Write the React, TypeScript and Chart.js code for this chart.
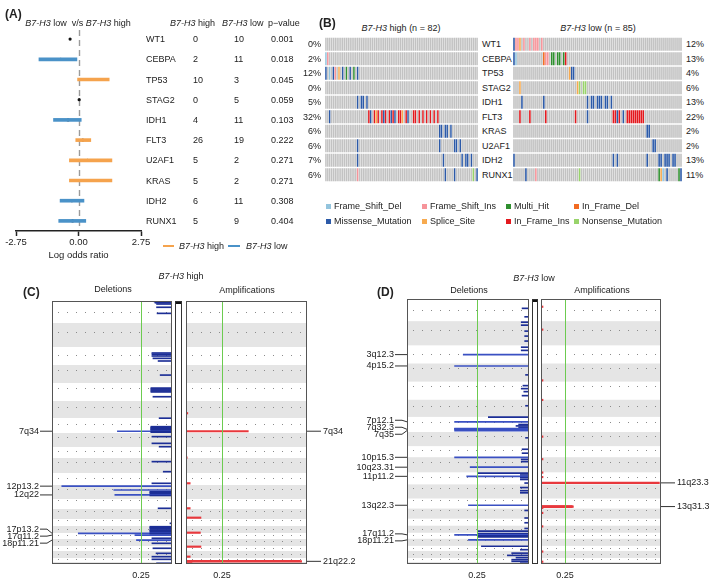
import React, { useEffect, useRef } from 'react';
import { Chart, registerables } from 'chart.js';

Chart.register(...registerables);

const FONT = "'Liberation Sans', Arial, Helvetica, sans-serif";
const INK = '#222222';

// ---------------- Panel A : forest plot + table ----------------
const forestGenes = ['WT1', 'CEBPA', 'TP53', 'STAG2', 'IDH1', 'FLT3', 'U2AF1', 'KRAS', 'IDH2', 'RUNX1'];
const logOddsRatio = [-0.37, -0.78, 0.54, 0.03, -0.46, 0.19, 0.4, 0.4, -0.29, -0.26];
const ciLower = [null, -1.74, -0.04, null, -1.1, -0.12, -0.4, -0.4, -0.81, -0.87];
const ciUpper = [null, -0.07, 1.35, null, 0.12, 0.54, 1.47, 1.47, 0.24, 0.32];
const highCounts = [0, 2, 10, 0, 4, 26, 5, 5, 6, 5];
const lowCounts = [10, 11, 3, 5, 11, 19, 2, 2, 11, 9];
const pValues = ['0.001', '0.018', '0.045', '0.059', '0.103', '0.222', '0.271', '0.271', '0.308', '0.404'];
const forestTicks = [-2.75, 0, 2.75];
const ORANGE = '#F5A34D';
const BLUE = '#4A92C8';

// ---------------- Panel B : oncoplots ----------------
const oncoGenes = ['WT1', 'CEBPA', 'TP53', 'STAG2', 'IDH1', 'FLT3', 'KRAS', 'U2AF1', 'IDH2', 'RUNX1'];
const highN = 82;
const lowN = 85;
const highPct = ['0%', '2%', '12%', '0%', '5%', '32%', '6%', '6%', '7%', '6%'];
const lowPct = ['12%', '13%', '4%', '6%', '13%', '22%', '2%', '2%', '13%', '11%'];
// sample column + mutation code, one string per gene row
const highMutations = [
  '',
  '0F 1P',
  '0B 2F 4B 5P 7S 9B 11H 13B 15H 17B',
  '',
  '17B 19B 20B 22B',
  '2B 23R 24B 26R 27S 28R 30R 31B 32R 34R 35B 36R 37B 39R 40R 41S 43R 44B 47R 48R 50R 52R 54R 56R 58R 60R',
  '61B 62B 64B 65B 67B',
  '17B 61B 69B 70B 72B',
  '17B 63B 73B 75B 76B 78B',
  '17P 64B 69B 79N 81B',
];
const lowMutations = [
  '0B 1P 2P 3S 5P 8P 10P 11P 12P 14P',
  '0B 1F 15O 16P 17P 19H 20H 22H 23H 25H 26R',
  '28S 29B 30B',
  '3S 32S 33N 35N 36N',
  '4B 15B 37B 39B 40B 42B 43B 44B 46B 47B 49B',
  '3R 8R 16R 31R 37B 50R 51R 52B 53R 55B 57R 58R 59R 60R 61R 62R 63R 64R 65R',
  '67B 68B',
  '70B 71B',
  '0B 50B 52B 67B 73B 74B 76B 77B 78B 80B 81B',
  '6B 11P 33N 73H 74S 75F 77B 83H 84B',
];
const mutationTypes = ['Frame_Shift_Del', 'Frame_Shift_Ins', 'Multi_Hit', 'In_Frame_Del', 'Missense_Mutation', 'Splice_Site', 'In_Frame_Ins', 'Nonsense_Mutation'];
const mutationCodes = ['F', 'P', 'H', 'O', 'B', 'S', 'R', 'N'];
const mutationColors = ['#93C4DD', '#F6949A', '#2F8F2F', '#F26B22', '#2C5AA8', '#F7AA4F', '#E3191E', '#98D36A'];
const CELL_GREY = '#C2C2C2';

// ---------------- Panels C / D : GISTIC q-plots ----------------
// plotted extent of each chromosome (relative units)
const chrSpan = [22, 24, 18, 18, 18, 17, 15, 14, 11, 15, 12, 14, 10, 10, 7, 7, 6, 7, 5, 7, 4, 2];
const chrLengthMb = [249, 243, 198, 191, 181, 171, 159, 146, 141, 136, 135, 134, 115, 107, 103, 90, 81, 78, 59, 63, 48, 51];
const centromereMb = [125, 93, 91, 50, 48, 59, 59, 45, 49, 40, 53, 35, 17, 17, 19, 36, 24, 17, 26, 28, 13, 14];
const qThreshold = 0.25;
// [chromosome, position (Mb), -log10(q)]
const delHighBars = [
  [1, 5, 0.35], [1, 12, 0.33], [1, 20, 0.33], [1, 34, 0.3], [1, 71, 0.3], [1, 140, 0.29],
  [3, 66, 0.39], [3, 80, 0.39], [3, 99, 0.39], [3, 125, 0.37], [3, 154, 0.27],
  [4, 107, 0.23],
  [5, 51, 0.41], [5, 60, 0.41], [5, 70, 0.41], [5, 80, 0.41], [5, 90, 0.41], [5, 138, 0.37],
  [7, 2, 0.25], [7, 92, 0.41], [7, 100, 0.41], [7, 105, 0.41], [7, 112, 0.41], [7, 118, 0.41], [7, 125, 0.41], [7, 130, 0.41], [7, 140, 1.06], [7, 145, 0.41], [7, 150, 0.41],
  [8, 38, 0.39], [8, 108, 0.39], [8, 143, 0.25],
  [10, 33, 0.39], [10, 124, 0.17],
  [11, 116, 0.39],
  [12, 11, 2.14], [12, 48, 1.13], [12, 64, 0.43], [12, 72, 0.43], [12, 80, 0.43], [12, 95, 1.11], [12, 100, 0.43],
  [13, 107, 0.27],
  [15, 64, 0.04],
  [16, 9, 0.43], [16, 20, 0.43], [16, 30, 0.43], [16, 50, 0.43], [16, 60, 0.43], [16, 70, 0.43], [16, 88, 0.43],
  [17, 4, 1.82], [17, 12, 0.43], [17, 28, 0.72], [17, 71, 0.39],
  [18, 12, 0.69], [18, 48, 0.39],
  [19, 27, 0.37],
  [20, 21, 0.31], [20, 51, 0.39],
  [21, 16, 0.39],
  [22, 33, 0.3],
];
const ampHighBars = [
  [6, 123, 0.03], [7, 140, 1.04], [9, 137, 0.02], [11, 116, 0.07], [13, 107, 0.07], [14, 93, 0.25],
  [16, 86, 0.24], [19, 8, 0.25], [20, 51, 0.07], [21, 36, 1.9], [21, 40, 1.93], [21, 44, 0.1],
];
const delLowBars = [
  [1, 105, 0.08], [1, 200, 0.05], [2, 10, 0.09], [2, 40, 0.09], [2, 100, 0.05], [2, 150, 0.05], [2, 200, 0.05],
  [3, 20, 0.09], [3, 55, 0.09], [3, 101, 0.76], [4, 26, 0.86], [4, 120, 0.04],
  [5, 40, 0.07], [5, 70, 0.09], [5, 100, 0.06], [5, 140, 0.08], [6, 60, 0.04],
  [7, 2, 0.47], [7, 52, 0.86], [7, 80, 0.12], [7, 95, 0.15], [7, 110, 0.12], [7, 122, 0.86], [7, 126, 0.86], [7, 131, 0.86], [7, 135, 0.8], [7, 140, 0.75], [7, 144, 0.86],
  [8, 60, 0.04], [9, 40, 0.08], [9, 90, 0.08],
  [10, 1, 0.86], [10, 20, 0.09], [10, 40, 0.09], [10, 90, 0.68],
  [11, 10, 0.59], [11, 30, 0.1], [11, 45, 0.72], [11, 60, 0.1], [11, 80, 0.1], [11, 120, 0.05],
  [12, 30, 0.1], [12, 60, 0.1], [12, 80, 0.1],
  [13, 77, 0.7], [14, 20, 0.05], [14, 100, 0.05], [15, 60, 0.05], [16, 35, 0.05], [16, 70, 0.59],
  [17, 10, 0.59], [17, 20, 0.59], [17, 28, 0.86], [17, 40, 0.59], [17, 55, 0.59],
  [18, 12, 0.7], [19, 5, 0.55], [19, 45, 0.1],
  [20, 20, 0.2], [20, 40, 0.25], [20, 60, 0.15], [21, 20, 0.2], [21, 40, 0.2], [22, 30, 0.1],
];
const ampLowBars = [
  [1, 87, 0.05], [2, 85, 0.05], [4, 178, 0.05], [6, 2, 0.05], [8, 48, 0.05], [10, 18, 0.05], [11, 3, 0.05], [11, 53, 0.05],
  [11, 118, 2.96], [13, 88, 0.78], [13, 92, 0.81], [13, 96, 0.78], [13, 107, 0.05], [14, 46, 0.05], [16, 9, 0.05], [20, 6, 0.05], [21, 45, 0.05],
];
const delHighPeaks = [['7q34', 7, 140], ['12p13.2', 12, 11], ['12q22', 12, 95], ['17p13.2', 17, 4], ['17q11.2', 17, 28], ['18p11.21', 18, 12]];
const ampHighPeaks = [['7q34', 7, 140], ['21q22.2', 21, 40]];
const delLowPeaks = [['3q12.3', 3, 101], ['4p15.2', 4, 26], ['7p12.1', 7, 52], ['7q32.3', 7, 131], ['7q35', 7, 144], ['10p15.3', 10, 1], ['10q23.31', 10, 90], ['11p11.2', 11, 45], ['13q22.3', 13, 77], ['17q11.2', 17, 28], ['18p11.21', 18, 12]];
const ampLowPeaks = [['11q23.3', 11, 118], ['13q31.3', 13, 92]];
// right end of each axis, in -log10(q)
const delHighMax = 2.33;
const ampHighMax = 2.02;
const delLowMax = 1.41;
const ampLowMax = 3.0;

const chrStart: number[] = [];
chrSpan.forEach((s, i) => chrStart.push(i === 0 ? 0 : chrStart[i - 1] + chrSpan[i - 1]));
const genomeTotal = chrSpan.reduce((a, b) => a + b, 0);
function genomeUnit(chr: number, mb: number) {
  return chrStart[chr - 1] + (chrSpan[chr - 1] * mb) / chrLengthMb[chr - 1];
}
const Q_LINE = -Math.log10(qThreshold);

// ---------------- helpers ----------------
function Txt(props: any) {
  const { x, y, align = 'left', size = 9, bold = false, children, color = INK } = props;
  const tx = align === 'left' ? '0' : align === 'center' ? '-50%' : '-100%';
  return (
    <div
      style={{
        position: 'absolute',
        left: x,
        top: y,
        transform: `translate(${tx}, -50%)`,
        fontSize: size,
        fontWeight: bold ? 'bold' : 'normal',
        fontFamily: FONT,
        color,
        whiteSpace: 'nowrap',
        lineHeight: 1,
      }}
    >
      {children}
    </div>
  );
}

function spread(ys: number[], gap: number) {
  const idx = ys.map((_, i) => i).sort((a, b) => ys[a] - ys[b]);
  let groups = idx.map((i) => ({ items: [i], center: ys[i] }));
  let merged = true;
  while (merged) {
    merged = false;
    for (let g = 1; g < groups.length; g++) {
      const A = groups[g - 1];
      const B = groups[g];
      const aBottom = A.center + ((A.items.length - 1) * gap) / 2;
      const bTop = B.center - ((B.items.length - 1) * gap) / 2;
      if (bTop - aBottom < gap) {
        const items = A.items.concat(B.items);
        const center = items.reduce((s, i) => s + ys[i], 0) / items.length;
        groups.splice(g - 1, 2, { items, center });
        merged = true;
        break;
      }
    }
  }
  const out = new Array(ys.length);
  groups.forEach((G) => G.items.forEach((i, k) => (out[i] = G.center + (k - (G.items.length - 1) / 2) * gap)));
  return out;
}

// ---------------- charts ----------------
const FOREST_TOP = 29;
const FOREST_BOTTOM = 231;
const forestRowY = (i: number) => FOREST_TOP + ((FOREST_BOTTOM - FOREST_TOP) / forestGenes.length) * (i + 0.5);

function ForestChart() {
  const ref = useRef<HTMLCanvasElement | null>(null);
  useEffect(() => {
    if (!ref.current) return;
    const zeroLine = {
      id: 'zeroLine',
      beforeDatasetsDraw(chart: any) {
        const { ctx, chartArea: a, scales } = chart;
        const px = Math.round(scales.x.getPixelForValue(0)) + 0.5;
        ctx.save();
        ctx.strokeStyle = '#9b9b9b';
        ctx.lineWidth = 1.4;
        ctx.setLineDash([6, 4]);
        ctx.beginPath();
        ctx.moveTo(px, a.top + 1);
        ctx.lineTo(px, a.bottom - 3);
        ctx.stroke();
        ctx.restore();
      },
    };
    const colors = logOddsRatio.map((v) => (v > 0 ? ORANGE : BLUE));
    const chart = new Chart(ref.current, {
      type: 'bar',
      data: {
        labels: forestGenes,
        datasets: [
          {
            type: 'bar',
            data: forestGenes.map((_, i) => (ciLower[i] == null ? null : [ciLower[i], ciUpper[i]])) as any,
            backgroundColor: colors,
            barThickness: 3,
            borderWidth: 0,
          },
          {
            type: 'scatter',
            indexAxis: 'y',
            data: forestGenes.map((g, i) => ({ x: logOddsRatio[i], y: g })) as any,
            pointRadius: 1.6,
            pointBackgroundColor: '#111',
            pointBorderWidth: 0,
          } as any,
        ],
      },
      options: {
        indexAxis: 'y',
        responsive: false,
        animation: false,
        devicePixelRatio: 1,
        layout: { padding: { left: 16, right: 19, top: FOREST_TOP, bottom: 0 } },
        plugins: { legend: { display: false }, tooltip: { enabled: false } },
        scales: {
          y: { type: 'category', labels: forestGenes, offset: true, display: false },
          x: {
            type: 'linear',
            min: -2.75,
            max: 2.75,
            position: 'bottom',
            border: { display: true, color: '#222', width: 1.5 },
            grid: { drawOnChartArea: false, drawTicks: true, tickLength: 5, tickColor: '#222', tickWidth: 1.5 },
            ticks: { font: { size: 9.5, family: FONT }, color: INK, padding: 1, autoSkip: false, maxRotation: 0, callback: (v: any) => Number(v).toFixed(2) },
            afterBuildTicks: (s: any) => {
              s.ticks = forestTicks.map((v) => ({ value: v }));
            },
            afterFit: (s: any) => {
              s.height = 262 - FOREST_BOTTOM;
            },
            title: { display: true, text: 'Log odds ratio', font: { size: 9.5, family: FONT }, color: INK, padding: { top: 1, bottom: 1 } },
          },
        },
      } as any,
      plugins: [zeroLine],
    });
    return () => chart.destroy();
  }, []);
  return <canvas ref={ref} width={160} height={262} style={{ position: 'absolute', left: 0, top: 0 }} />;
}

function OncoChart(props: any) {
  const { mutations, n, left, top, width, height } = props;
  const ref = useRef<HTMLCanvasElement | null>(null);
  useEffect(() => {
    if (!ref.current) return;
    const datasets = oncoGenes.map((g, r) => {
      const colors = new Array(n).fill(CELL_GREY);
      mutations[r]
        .split(' ')
        .filter(Boolean)
        .forEach((tok: string) => {
          const col = parseInt(tok, 10);
          const code = tok.replace(/[0-9]/g, '');
          const k = mutationCodes.indexOf(code);
          if (k >= 0 && col < n) colors[col] = mutationColors[k];
        });
      return {
        label: g,
        data: Array.from({ length: n }, () => [r + 0.05, r + 0.95]),
        backgroundColor: colors,
        borderWidth: 0,
        barPercentage: 0.8,
        categoryPercentage: 1,
        grouped: false,
      };
    });
    const chart = new Chart(ref.current, {
      type: 'bar',
      data: { labels: Array.from({ length: n }, (_, i) => String(i + 1)), datasets: datasets as any },
      options: {
        responsive: false,
        animation: false,
        devicePixelRatio: 1,
        layout: { padding: 0 },
        plugins: { legend: { display: false }, tooltip: { enabled: false } },
        scales: {
          x: { type: 'category', display: false, offset: true },
          y: { type: 'linear', display: false, min: 0, max: oncoGenes.length, reverse: true, offset: false },
        },
      } as any,
    });
    return () => chart.destroy();
  }, []);
  return <canvas ref={ref} width={width} height={height} style={{ position: 'absolute', left, top }} />;
}

function GisticChart(props: any) {
  const { bars, peaks, maxScore, kind, left, top, width, height, padLeft, padRight, padTop } = props;
  const ref = useRef<HTMLCanvasElement | null>(null);
  useEffect(() => {
    if (!ref.current) return;
    const isDel = kind === 'del';
    const data = bars.map((b: number[]) => ({ x: b[2], y: genomeUnit(b[0], b[1]) }));
    const colors = data.map((d: any) => (isDel ? (d.x > 0.6 ? '#3A50C2' : '#1C2E96') : '#E8383D'));
    const plugin = {
      id: 'gistic_' + kind,
      beforeDatasetsDraw(chart: any) {
        const { ctx, chartArea: a } = chart;
        const y = chart.scales.y;
        ctx.save();
        for (let c = 0; c < chrSpan.length; c++) {
          if (c % 2 === 1) {
            const y0 = y.getPixelForValue(chrStart[c]);
            const y1 = y.getPixelForValue(chrStart[c] + chrSpan[c]);
            ctx.fillStyle = '#E5E5E5';
            ctx.fillRect(a.left, y0, a.width, y1 - y0);
          }
        }
        ctx.strokeStyle = '#8a8a8a';
        ctx.lineWidth = 1;
        ctx.setLineDash([1, 8]);
        for (let c = 0; c < chrSpan.length; c++) {
          const yc = Math.round(y.getPixelForValue(genomeUnit(c + 1, centromereMb[c]))) + 0.5;
          ctx.beginPath();
          ctx.moveTo(a.left + 6, yc);
          ctx.lineTo(a.right - 2, yc);
          ctx.stroke();
        }
        ctx.restore();
      },
      afterDatasetsDraw(chart: any) {
        const { ctx, chartArea: a } = chart;
        const x = chart.scales.x;
        const y = chart.scales.y;
        ctx.save();
        const gx = Math.round(x.getPixelForValue(Q_LINE)) + 0.5;
        ctx.strokeStyle = '#6CCB50';
        ctx.lineWidth = 1;
        ctx.beginPath();
        ctx.moveTo(gx, a.top);
        ctx.lineTo(gx, a.bottom);
        ctx.stroke();
        ctx.strokeStyle = '#555';
        ctx.strokeRect(Math.round(a.left) + 0.5, Math.round(a.top) + 0.5, Math.round(a.width) - 1, Math.round(a.height) - 1);
        // peak labels
        const pys = peaks.map((p: any) => y.getPixelForValue(genomeUnit(p[1], p[2])));
        const tys = spread(pys, 7);
        ctx.font = `9px ${FONT}`;
        ctx.fillStyle = INK;
        ctx.strokeStyle = '#333';
        ctx.textBaseline = 'middle';
        peaks.forEach((p: any, i: number) => {
          ctx.beginPath();
          if (isDel) {
            ctx.textAlign = 'right';
            ctx.fillText(p[0], a.left - 13, tys[i]);
            ctx.moveTo(a.left - 12, tys[i]);
            ctx.lineTo(a.left - 5, tys[i]);
            ctx.lineTo(a.left, pys[i]);
          } else {
            ctx.textAlign = 'left';
            ctx.fillText(p[0], a.right + 16, tys[i]);
            ctx.moveTo(a.right, pys[i]);
            ctx.lineTo(a.right + 5, tys[i]);
            ctx.lineTo(a.right + 14, tys[i]);
          }
          ctx.stroke();
        });
        ctx.restore();
      },
    };
    const chart = new Chart(ref.current, {
      type: 'bar',
      data: { datasets: [{ data, backgroundColor: colors, barThickness: isDel ? 1 : 1.5, borderWidth: 0 }] as any },
      options: {
        indexAxis: 'y',
        responsive: false,
        animation: false,
        devicePixelRatio: 1,
        layout: { padding: { left: padLeft, right: padRight, top: padTop, bottom: 2 } },
        plugins: { legend: { display: false }, tooltip: { enabled: false } },
        scales: {
          y: { type: 'linear', min: 0, max: genomeTotal, reverse: true, display: false, offset: false },
          x: {
            type: 'linear',
            min: 0,
            max: maxScore,
            reverse: isDel,
            offset: false,
            position: 'bottom',
            grid: { display: false, drawTicks: false },
            border: { display: false },
            ticks: { font: { size: 9, family: FONT }, color: INK, padding: 6, autoSkip: false, maxRotation: 0, callback: () => String(qThreshold) },
            afterBuildTicks: (s: any) => {
              s.ticks = [{ value: Q_LINE }];
            },
            afterFit: (s: any) => {
              s.height = 16;
            },
          },
        },
      } as any,
      plugins: [plugin],
    });
    return () => chart.destroy();
  }, []);
  return <canvas ref={ref} width={width} height={height} style={{ position: 'absolute', left, top }} />;
}

function Strip(props: any) {
  return (
    <div style={{ position: 'absolute', left: props.left, top: props.top, width: props.width, height: props.height, boxSizing: 'border-box', border: '1px solid #333', background: '#fff' }}>
      <div style={{ height: 2, background: '#111' }} />
    </div>
  );
}

const I = (s: string) => <i>{s}</i>;

export default function App() {
  const oncoRowY = (r: number) => 37 + 14.5 * (r + 0.5);
  return (
    <div style={{ position: 'absolute', left: 0, top: 0, width: 709, height: 582, background: '#fff', overflow: 'hidden', fontFamily: FONT }}>
      <ForestChart />
      <OncoChart mutations={highMutations} n={highN} left={325} top={37} width={153} height={145} />
      <OncoChart mutations={lowMutations} n={lowN} left={513} top={37} width={169} height={145} />
      <GisticChart bars={delHighBars} peaks={delHighPeaks} maxScore={delHighMax} kind="del" left={0} top={270} width={175} height={312} padLeft={52} padRight={3} padTop={31} />
      <GisticChart bars={ampHighBars} peaks={ampHighPeaks} maxScore={ampHighMax} kind="amp" left={182} top={270} width={175} height={312} padLeft={4} padRight={50} padTop={31} />
      <GisticChart bars={delLowBars} peaks={delLowPeaks} maxScore={delLowMax} kind="del" left={355} top={270} width={177} height={312} padLeft={52} padRight={3} padTop={29} />
      <GisticChart bars={ampLowBars} peaks={ampLowPeaks} maxScore={ampLowMax} kind="amp" left={538} top={270} width={171} height={312} padLeft={3} padRight={48} padTop={29} />
      <Strip left={175} top={301} width={7} height={263} />
      <Strip left={532} top={299} width={6} height={265} />

      {/* Panel A */}
      <Txt x={5} y={14} size={12} bold>(A)</Txt>
      <Txt x={78} y={23} align="center">{I('B7-H3')} low&nbsp; v/s {I('B7-H3')} high</Txt>
      <Txt x={170} y={23}>{I('B7-H3')} high</Txt>
      <Txt x={222} y={23}>{I('B7-H3')} low</Txt>
      <Txt x={268} y={23}>p−value</Txt>
      {forestGenes.map((g, i) => (
        <React.Fragment key={g}>
          <Txt x={146} y={forestRowY(i)}>{g}</Txt>
          <Txt x={193} y={forestRowY(i)}>{String(highCounts[i])}</Txt>
          <Txt x={234} y={forestRowY(i)}>{String(lowCounts[i])}</Txt>
          <Txt x={271} y={forestRowY(i)}>{pValues[i]}</Txt>
        </React.Fragment>
      ))}
      <div style={{ position: 'absolute', left: 163, top: 245, width: 11, height: 2, background: ORANGE }} />
      <Txt x={179} y={246}>{I('B7-H3')} high</Txt>
      <div style={{ position: 'absolute', left: 228, top: 245, width: 12, height: 2, background: BLUE }} />
      <Txt x={246} y={246}>{I('B7-H3')} low</Txt>

      {/* Panel B */}
      <Txt x={319} y={23} size={12} bold>(B)</Txt>
      <Txt x={401} y={28} align="center">{I('B7-H3')} high (n = {highN})</Txt>
      <Txt x={598} y={28} align="center">{I('B7-H3')} low (n = {lowN})</Txt>
      {oncoGenes.map((g, r) => (
        <React.Fragment key={'o' + g}>
          <Txt x={321} y={oncoRowY(r)} align="right">{highPct[r]}</Txt>
          <Txt x={482} y={oncoRowY(r)}>{g}</Txt>
          <Txt x={686} y={oncoRowY(r)}>{lowPct[r]}</Txt>
        </React.Fragment>
      ))}
      {mutationTypes.map((t, k) => {
        const colX = [326, 422, 506, 574][k % 4];
        const rowY = k < 4 ? 206 : 221;
        return (
          <React.Fragment key={t}>
            <div style={{ position: 'absolute', left: colX, top: rowY - 2.5, width: 5, height: 5, background: mutationColors[k] }} />
            <Txt x={colX + 8} y={rowY}>{t}</Txt>
          </React.Fragment>
        );
      })}

      {/* Panel C */}
      <Txt x={23} y={292} size={12} bold>(C)</Txt>
      <Txt x={181} y={276} align="center">{I('B7-H3')} high</Txt>
      <Txt x={113} y={289} align="center">Deletions</Txt>
      <Txt x={247} y={290} align="center">Amplifications</Txt>

      {/* Panel D */}
      <Txt x={377} y={292} size={12} bold>(D)</Txt>
      <Txt x={534} y={278} align="center">{I('B7-H3')} low</Txt>
      <Txt x={469} y={290} align="center">Deletions</Txt>
      <Txt x={602} y={290} align="center">Amplifications</Txt>
    </div>
  );
}
